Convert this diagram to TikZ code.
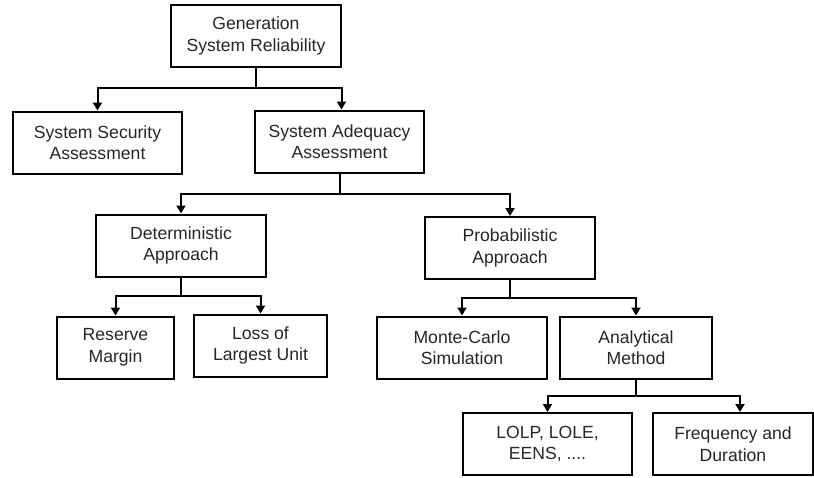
\documentclass[tikz,border=0pt]{standalone}
\usepackage{fontspec}
\setmainfont{Liberation Sans}
\usepackage{tikz}
\usetikzlibrary{arrows.meta}
\definecolor{c_line}{HTML}{000000}
\definecolor{c_text}{HTML}{262626}

\begin{document}
\begin{tikzpicture}
[x=1pt,y=-1pt,font=\fontsize{17.6}{21.5}\selectfont,
 blk/.style={draw=c_line,line width=2pt,text=c_text,align=center,inner sep=0pt,minimum height=62pt},
 lnk/.style={c_line,line width=2pt,-{Triangle[width=9pt,length=8pt]}}]
	\useasboundingbox (0,0) rectangle (814,477);

	% level 0 and 1
	\node[blk,minimum width=170pt] (gen) at (256,36) {Generation\\System Reliability};
	\node[blk,minimum width=169pt] (sec) at (97.5,142.5) {System Security\\Assessment};
	\node[blk,minimum width=169pt] (adq) at (339.5,141.5) {System Adequacy\\Assessment};

	% level 2
	\node[blk,minimum width=170pt] (det) at (181,245.5) {Deterministic\\Approach};
	\node[blk,minimum width=170pt] (prob) at (510,248) {Probabilistic\\Approach};

	% level 3
	\node[blk,minimum width=117pt] (res) at (115.5,347.5) {Reserve\\Margin};
	\node[blk,minimum width=133pt] (loss) at (260.5,345.5) {Loss of\\Largest Unit};
	\node[blk,minimum width=170pt] (mc) at (462,347.5) {Monte-Carlo\\Simulation};
	\node[blk,minimum width=152pt] (ana) at (636,347.5) {Analytical\\Method};

	% level 4
	\node[blk,minimum width=169pt] (lolp) at (547.5,444) {LOLP, LOLE,\\EENS, ....};
	\node[blk,minimum width=160pt] (freq) at (733,444) {Frequency and\\Duration};

	% connectors
	\draw[lnk] (gen.south) -- (256,88) -| (sec.north);
	\draw[lnk] (gen.south) -- (256,88) -| ([xshift=2pt]adq.north);
	\draw[lnk] (adq.south) -- (339.5,194) -| (det.north);
	\draw[lnk] (adq.south) -- (339.5,194) -| (prob.north);
	\draw[lnk] (det.south) -- (181,296) -| (res.north);
	\draw[lnk] (det.south) -- (181,296) -| (loss.north);
	\draw[lnk] (prob.south) -- (510,298) -| (mc.north);
	\draw[lnk] (prob.south) -- (510,298) -| (ana.north);
	\draw[lnk] (ana.south) -- (636,396) -| (lolp.north);
	\draw[lnk] (ana.south) -- (636,396) -| ([xshift=7pt]freq.north);

\end{tikzpicture}
\end{document}
